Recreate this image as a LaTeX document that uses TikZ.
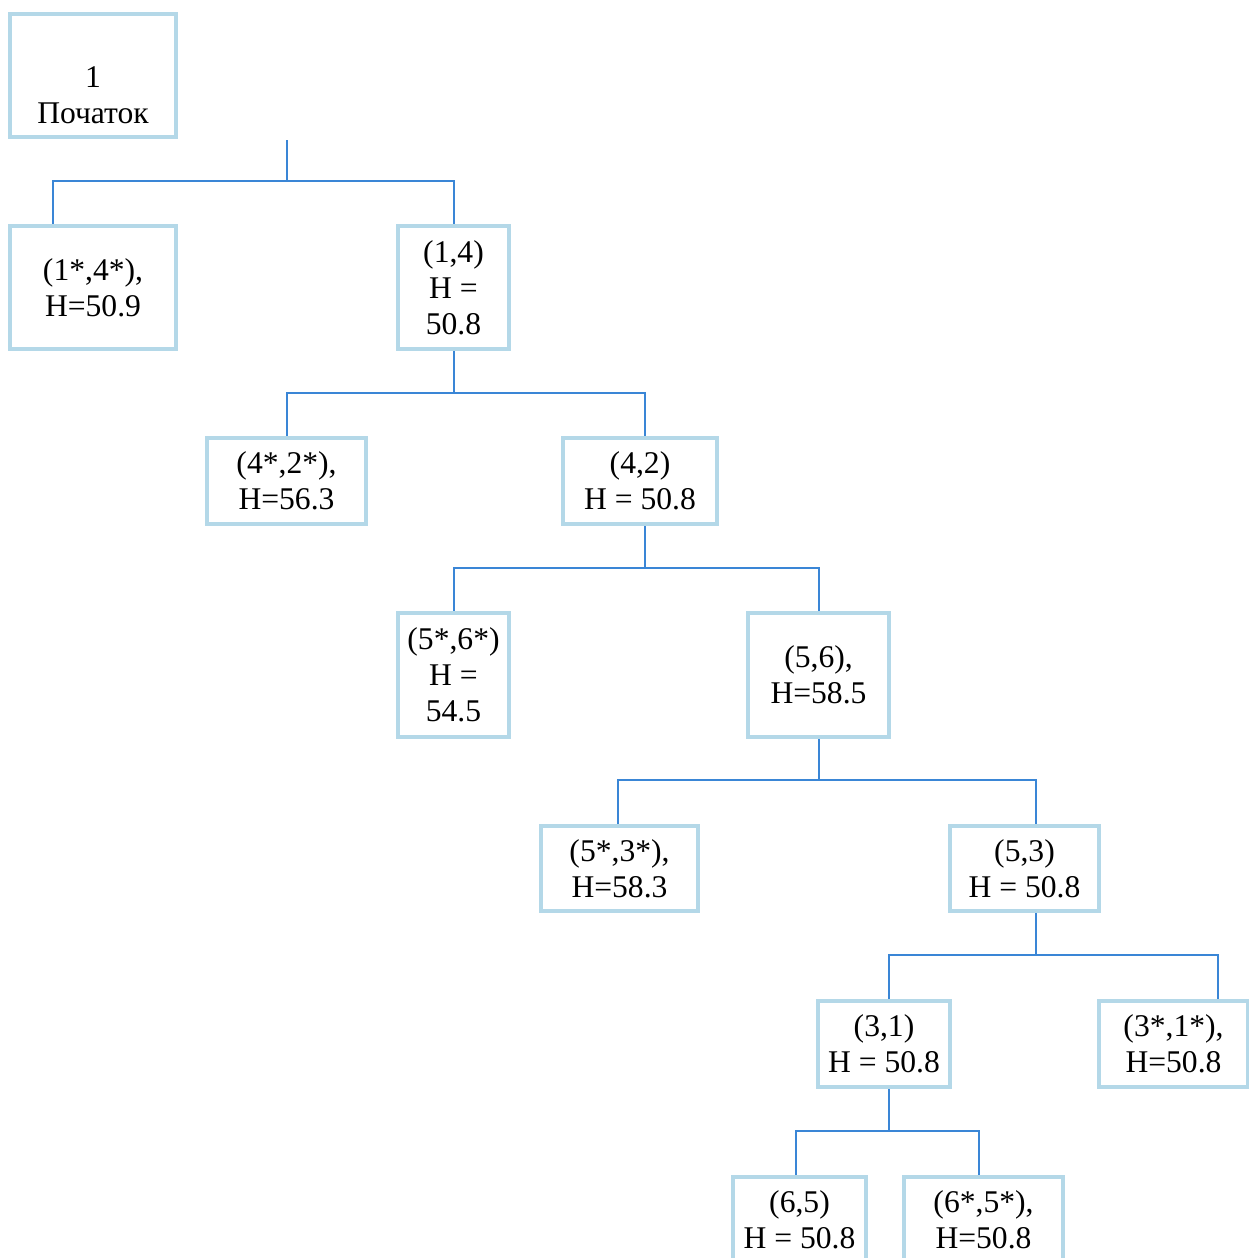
\documentclass[tikz,border=0pt]{standalone}
\usepackage{fontspec}
\setmainfont{Liberation Serif}
\definecolor{boxline}{RGB}{180,216,232}
\definecolor{linkline}{RGB}{58,134,214}
\tikzset{
  box/.style={draw=boxline, line width=4pt, align=center, inner sep=0pt,
    font=\fontsize{31.6}{36}\selectfont},
  boxtext/.style={align=center, inner sep=0pt, font=\fontsize{31.6}{36}\selectfont},
  link/.style={draw=linkline, line width=2pt}
}
\begin{document}
\begin{tikzpicture}[x=1pt,y=-1pt]
\useasboundingbox (0,0) rectangle (1248,1258);
% nodes
\node[box, minimum width=166, minimum height=123] (start) at (93,75.5) {};
\node[boxtext] (starttext) at ([yshift=-20pt]start.center) {1\\Початок};
\node[box, minimum width=166, minimum height=123] (n14s) at (93,287.5) {(1*,4*),\\H=50.9};
\node[box, minimum width=111, minimum height=123] (n14) at (453.5,287.5) {(1,4)\\H =\\50.8};
\node[box, minimum width=159, minimum height=86] (n42s) at (286.5,481) {(4*,2*),\\H=56.3};
\node[box, minimum width=154, minimum height=86] (n42) at (640,481) {(4,2)\\H = 50.8};
\node[box, minimum width=111, minimum height=124] (n56s) at (453.5,675) {(5*,6*)\\H =\\54.5};
\node[box, minimum width=141, minimum height=124] (n56) at (818.5,675) {(5,6),\\H=58.5};
\node[box, minimum width=157, minimum height=85] (n53s) at (619.5,868.5) {(5*,3*),\\H=58.3};
\node[box, minimum width=149, minimum height=85] (n53) at (1024.5,868.5) {(5,3)\\H = 50.8};
\node[box, minimum width=132, minimum height=86] (n31) at (884,1044) {(3,1)\\H = 50.8};
\node[box, minimum width=149, minimum height=86] (n31s) at (1173.5,1044) {(3*,1*),\\H=50.8};
\node[box, minimum width=133, minimum height=86] (n65) at (799.5,1220) {(6,5)\\H = 50.8};
\node[box, minimum width=159, minimum height=86] (n65s) at (983.5,1220) {(6*,5*),\\H=50.8};
% connectors
\coordinate (stem) at (287,140);
\draw[link] (stem) -- ++(0,41) coordinate (j0);
\draw[link] (j0) -| ([xshift=-40.5pt]n14s.north);
\draw[link] (j0) -| (n14.north);
\draw[link] (n14.south) -- ++(0,42) coordinate (j1);
\draw[link] (j1) -| (n42s.north);
\draw[link] (j1) -| ([xshift=5pt]n42.north);
\draw[link] ([xshift=5pt]n42.south) -- ++(0,42) coordinate (j2);
\draw[link] (j2) -| (n56s.north);
\draw[link] (j2) -| (n56.north);
\draw[link] (n56.south) -- ++(0,41) coordinate (j3);
\draw[link] (j3) -| ([xshift=-1.5pt]n53s.north);
\draw[link] (j3) -| ([xshift=11.5pt]n53.north);
\draw[link] ([xshift=11.5pt]n53.south) -- ++(0,42) coordinate (j4);
\draw[link] (j4) -| ([xshift=5pt]n31.north);
\draw[link] (j4) -| ([xshift=44.5pt]n31s.north);
\draw[link] ([xshift=5pt]n31.south) -- ++(0,42) coordinate (j5);
\draw[link] (j5) -| ([xshift=-3.5pt]n65.north);
\draw[link] (j5) -| ([xshift=-4.5pt]n65s.north);
\end{tikzpicture}
\end{document}
